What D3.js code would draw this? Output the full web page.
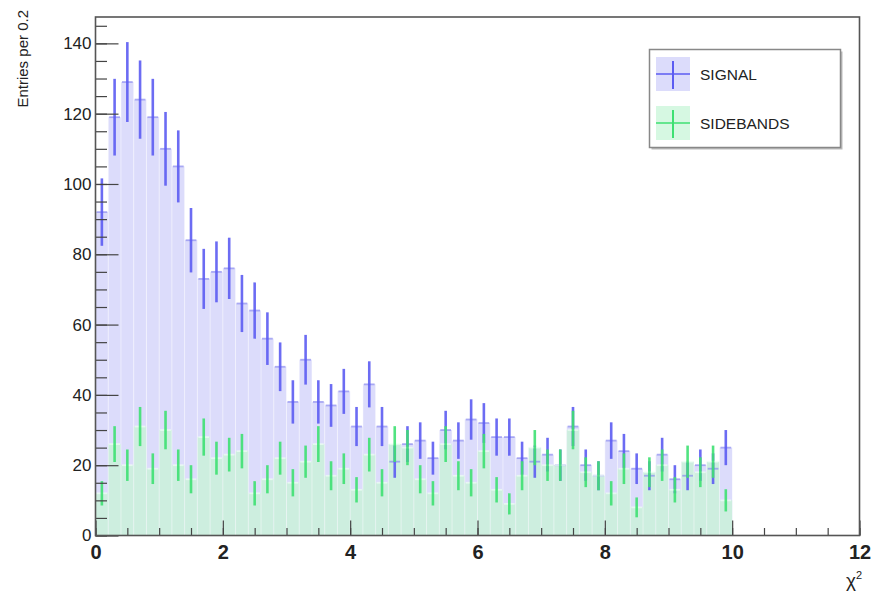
<!DOCTYPE html>
<html>
<head>
<meta charset="utf-8">
<script src="https://cdn.jsdelivr.net/npm/d3@7"></script>
<style>
  body { margin: 0; background: #fff; }
  svg { display: block; }
  text { font-family: "Liberation Sans", Arial, Helvetica, sans-serif; fill: #222; }
</style>
</head>
<body>
<svg id="chart" width="877" height="595"></svg>
<script>
// contenido de los bines (0.2 de ancho, de 0 a 10)
var signal = [92, 119, 129, 124, 119, 110, 105, 84, 73, 75,
              76, 66, 64, 56, 48, 38, 50, 38, 37, 41,
              31, 43, 31, 21, 26, 27, 22, 30, 27, 33,
              32, 28, 28, 22, 21, 23, 20, 31, 20, 17,
              27, 24, 19, 17, 23, 16, 17, 20, 19, 25];
var sidebands = [12, 26, 20, 31, 19, 30, 20, 16, 28, 22,
                 23, 24, 12, 16, 22, 15, 21, 26, 17, 19,
                 13, 23, 15, 26, 25, 16, 12, 26, 17, 15,
                 24, 13, 9, 17, 25, 20, 20, 30, 18, 17,
                 12, 19, 8, 18, 20, 13, 21, 18, 21, 10];
var seriesNames = ["SIGNAL", "SIDEBANDS"];
var binWidth = 0.2;
var xTicks = [0, 2, 4, 6, 8, 10, 12];
var yTicks = [0, 20, 40, 60, 80, 100, 120, 140];

var margenIzq = 95.5, margenDer = 859.5, margenSup = 17, margenInf = 535.5;

var x = d3.scaleLinear().domain([0, 12]).range([margenIzq, margenDer]);
var y = d3.scaleLinear().domain([0, 147.5]).range([margenInf, margenSup]);

var svg = d3.select("#chart");

// datos por bin
function bins(values) {
    return values.map(function (v, i) {
        return { lo: i * binWidth, hi: (i + 1) * binWidth, v: v, err: Math.sqrt(v) };
    });
}
var sig = bins(signal);
var sb = bins(sidebands);

var estilos = [
    { datos: sig, fill: "#dcdcfb", bar: "#5c5cf2", mark: "#8c8cf0" },
    { datos: sb, fill: "#cdeedf", bar: "#3ee072", mark: "#f0fff5" }
];

// rellenos
estilos.forEach(function (e) {
    svg.append("g").selectAll("rect")
        .data(e.datos)
        .join("rect")
        .attr("x", function (d) { return x(d.lo); })
        .attr("width", function (d) { return x(d.hi) - x(d.lo); })
        .attr("y", function (d) { return y(d.v); })
        .attr("height", function (d) { return y(0) - y(d.v); })
        .attr("fill", e.fill);
});

// lineas claras entre bines
svg.append("g").selectAll("line")
    .data(sig.slice(1))
    .join("line")
    .attr("x1", function (d) { return x(d.lo); })
    .attr("x2", function (d) { return x(d.lo); })
    .attr("y1", y(0))
    .attr("y2", function (d, i) { return y(Math.max(d.v, sig[i].v, sb[i + 1].v, sb[i].v)); })
    .attr("stroke", "#fff")
    .attr("stroke-opacity", 0.45)
    .attr("stroke-width", 1);

// barras de error
estilos.forEach(function (e) {
    var g = svg.append("g");
    g.selectAll(".h")
        .data(e.datos)
        .join("line")
        .attr("class", "h")
        .attr("x1", function (d) { return x(d.lo) + 1; })
        .attr("x2", function (d) { return x(d.hi) - 1; })
        .attr("y1", function (d) { return y(d.v); })
        .attr("y2", function (d) { return y(d.v); })
        .attr("stroke", e.mark)
        .attr("stroke-opacity", 0.7)
        .attr("stroke-width", 1.8);
    g.selectAll(".v")
        .data(e.datos)
        .join("line")
        .attr("class", "v")
        .attr("x1", function (d) { return x(d.lo + binWidth / 2); })
        .attr("x2", function (d) { return x(d.lo + binWidth / 2); })
        .attr("y1", function (d) { return y(d.v + d.err); })
        .attr("y2", function (d) { return y(Math.max(0, d.v - d.err)); })
        .attr("stroke", e.bar)
        .attr("stroke-opacity", 0.9)
        .attr("stroke-width", 2.6);
});

// ejes (marcas hacia dentro, al estilo ROOT)
svg.append("g").attr("class", "eje")
    .attr("transform", "translate(" + margenIzq + ",0)")
    .call(d3.axisLeft(y).tickValues(d3.range(0, 146, 5)).tickSize(-11.5).tickFormat(""));
var ejeY = svg.append("g").attr("class", "eje")
    .attr("transform", "translate(" + margenIzq + ",0)")
    .call(d3.axisLeft(y).tickValues(yTicks).tickSize(-23).tickPadding(4));
ejeY.selectAll("text").style("font-size", "17px").attr("fill", "#222");

svg.append("g").attr("class", "eje")
    .attr("transform", "translate(0," + margenInf + ")")
    .call(d3.axisBottom(x).tickValues(d3.range(0, 12.01, 0.5)).tickSize(-7.5).tickFormat(""));
var ejeX = svg.append("g").attr("class", "eje")
    .attr("transform", "translate(0," + margenInf + ")")
    .call(d3.axisBottom(x).tickValues(xTicks).tickSize(-15).tickPadding(9.5));
ejeX.selectAll("text").style("font-size", "20px").style("font-weight", "bold").attr("fill", "#222");

svg.selectAll(".eje .domain").remove();
svg.selectAll(".eje .tick line").attr("stroke", "#444").attr("stroke-width", 1.2);

// marco
svg.append("rect")
    .attr("x", margenIzq).attr("y", margenSup)
    .attr("width", margenDer - margenIzq).attr("height", margenInf - margenSup)
    .attr("fill", "none").attr("stroke", "#555").attr("stroke-width", 1.6);

// titulos
svg.append("text")
    .attr("transform", "translate(28,10) rotate(-90)")
    .attr("text-anchor", "end")
    .style("font-size", "15px")
    .text("Entries per 0.2");

var tx = svg.append("text")
    .attr("x", 862).attr("y", 587)
    .attr("text-anchor", "end")
    .style("font-size", "19px");
tx.append("tspan").text("χ");
tx.append("tspan").attr("dy", -8).style("font-size", "11px").text("2");

// leyenda
var ley = svg.append("g");
ley.append("rect").attr("x", 651.5).attr("y", 51.5).attr("width", 191).attr("height", 98).attr("fill", "#bbb");
ley.append("rect").attr("x", 649.5).attr("y", 49.5).attr("width", 191).attr("height", 98)
    .attr("fill", "#fff").attr("stroke", "#888").attr("stroke-width", 1.5);

var legendFill = ["#dcdcfb", "#d6f8e2"];
seriesNames.forEach(function (n, i) {
    var cy = 74 + i * 49;
    ley.append("rect").attr("x", 656).attr("y", cy - 17).attr("width", 34).attr("height", 34).attr("fill", legendFill[i]);
    ley.append("line").attr("x1", 656).attr("x2", 690).attr("y1", cy).attr("y2", cy)
        .attr("stroke", estilos[i].bar).attr("stroke-width", 1.5);
    ley.append("line").attr("x1", 673).attr("x2", 673).attr("y1", cy - 13).attr("y2", cy + 15)
        .attr("stroke", estilos[i].bar).attr("stroke-width", 2);
    ley.append("text").attr("x", 700).attr("y", cy + 5.5)
        .style("font-size", "15.5px").attr("fill", "#333").text(n);
});
</script>
</body>
</html>
